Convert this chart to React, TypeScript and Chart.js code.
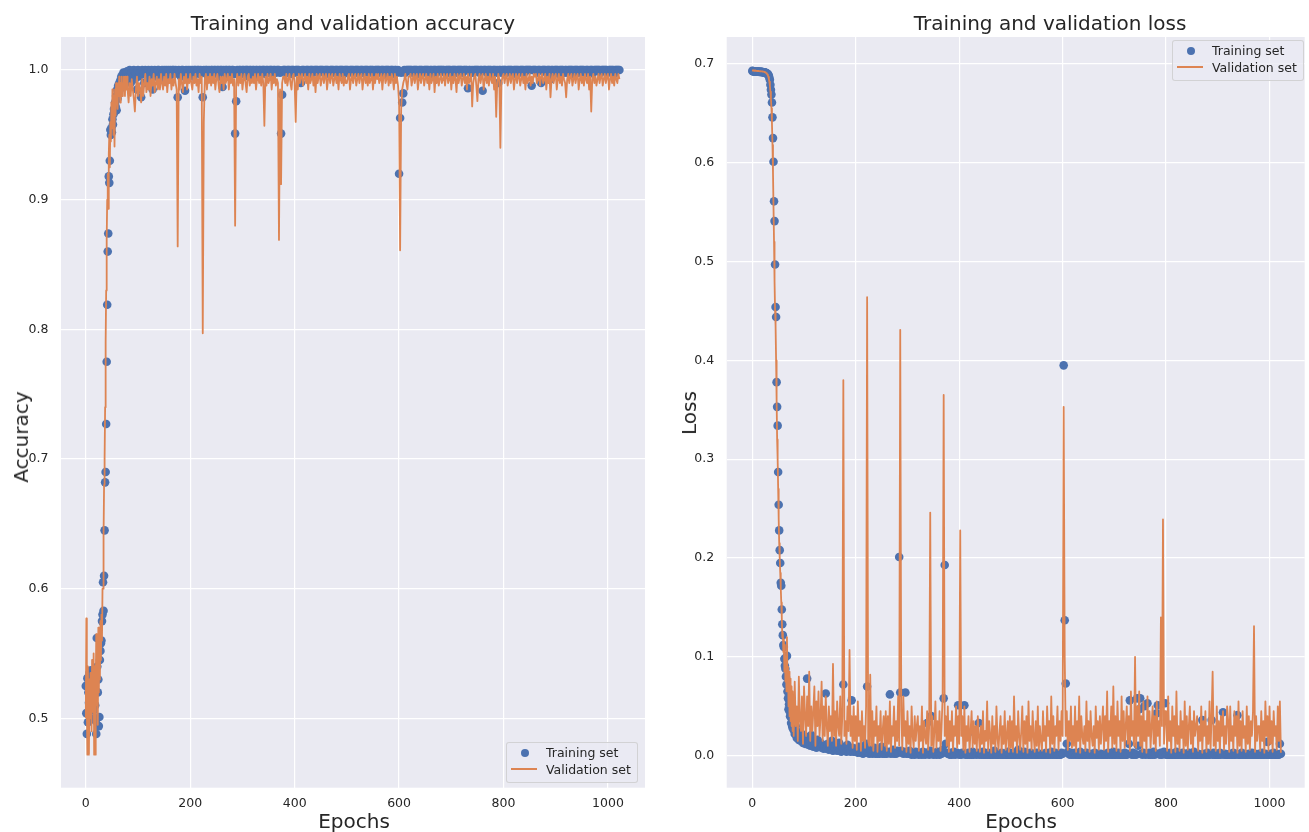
import React, { useEffect, useRef } from "react";
import { Chart, registerables } from "chart.js";
Chart.register(...registerables);

// Epoch positions (x categories): every epoch up to 79, then every second epoch
const EPOCHS: number[] = [];
for (let e = 0; e < 80; e++) EPOCHS.push(e);
for (let e = 80; e <= 1022; e += 2) EPOCHS.push(e);

const X_TICKS = [0, 200, 400, 600, 800, 1000];
const ACC_TICKS = [0.5, 0.6, 0.7, 0.8, 0.9, 1.0];
const LOSS_TICKS = [0.0, 0.1, 0.2, 0.3, 0.4, 0.5, 0.6, 0.7];

const ACC_TRAIN = [
  0.525,0.504,0.488,0.531,0.497,0.52,0.512,0.535,0.51,0.5,
  0.537,0.523,0.53,0.515,0.528,0.506,0.52,0.533,0.51,0.498,
  0.488,0.562,0.54,0.52,0.53,0.494,0.501,0.545,0.552,0.558,
  0.56,0.575,0.58,0.605,0.583,0.61,0.645,0.682,0.69,0.727,
  0.775,0.819,0.86,0.874,0.918,0.913,0.93,0.954,0.95,0.955,
  0.952,0.962,0.958,0.966,0.97,0.968,0.975,0.972,0.98,0.969,
  0.985,0.978,0.988,0.982,0.99,0.985,0.992,0.988,0.995,0.99,
  0.996,0.992,0.998,0.994,0.997,0.993,0.998,0.995,0.997,0.999,
  // 80..138
  0.998,0.995,1.0,0.99,0.998,0.995,1.0,0.993,0.998,0.985, 1.0,0.995,0.998,0.979,1.0,0.997,0.99,1.0,0.998,0.995, 1.0,0.993,0.998,1.0,0.985,0.997,1.0,0.995,0.998,1.0,
  // 140..198
  1.0,0.998,0.995,1.0,0.998,1.0,0.993,1.0,0.998,1.0, 0.995,1.0,0.998,1.0,1.0,0.997,1.0,0.998,0.979,1.0, 0.998,0.995,1.0,1.0,0.998,0.984,1.0,0.998,1.0,0.995,
  // 200..258
  1.0,0.998,1.0,0.995,1.0,1.0,0.998,1.0,1.0,0.997, 1.0,0.998,0.979,1.0,0.998,1.0,1.0,0.995,1.0,0.998, 1.0,1.0,0.997,1.0,1.0,0.998,1.0,1.0,0.995,1.0,
  // 260..318
  1.0,0.987,1.0,0.998,1.0,1.0,0.995,1.0,1.0,0.998, 1.0,1.0,0.997,0.951,0.976,1.0,0.998,1.0,1.0,0.997, 1.0,1.0,0.998,1.0,1.0,1.0,0.995,1.0,1.0,0.998,
  // 320..378
  1.0,1.0,0.998,1.0,1.0,0.995,1.0,1.0,0.998,1.0, 1.0,1.0,0.997,1.0,1.0,0.998,1.0,1.0,1.0,0.997, 1.0,1.0,0.998,1.0,1.0,1.0,0.998,0.951,0.981,1.0,
  // 380..438
  1.0,1.0,0.998,1.0,1.0,1.0,0.997,1.0,1.0,1.0, 0.998,1.0,1.0,1.0,1.0,0.998,0.99,1.0,1.0,1.0, 0.998,1.0,1.0,1.0,0.997,1.0,1.0,1.0,0.998,1.0,
  // 440..498
  1.0,1.0,1.0,0.998,1.0,1.0,1.0,1.0,0.998,1.0, 1.0,1.0,1.0,0.997,1.0,1.0,1.0,1.0,0.998,1.0, 1.0,1.0,0.998,1.0,1.0,1.0,1.0,0.997,1.0,1.0,
  // 500..558
  1.0,1.0,0.998,1.0,1.0,1.0,1.0,0.998,1.0,1.0, 1.0,1.0,0.997,1.0,1.0,1.0,0.998,1.0,1.0,1.0, 1.0,0.998,1.0,1.0,1.0,1.0,0.997,1.0,1.0,1.0,
  // 560..618
  1.0,1.0,0.998,1.0,1.0,1.0,0.997,1.0,1.0,1.0, 1.0,0.998,1.0,1.0,1.0,0.997,1.0,1.0,0.998,1.0, 0.92,0.963,0.998,0.975,0.982,1.0,0.998,1.0,1.0,1.0,
  // 620..678
  1.0,1.0,1.0,0.998,1.0,1.0,1.0,1.0,0.997,1.0, 1.0,1.0,1.0,0.998,1.0,1.0,1.0,1.0,1.0,0.998, 1.0,1.0,0.997,1.0,1.0,1.0,0.998,1.0,1.0,1.0,
  // 680..738
  1.0,1.0,1.0,1.0,0.998,1.0,1.0,1.0,1.0,1.0, 0.997,1.0,1.0,1.0,1.0,0.998,1.0,1.0,1.0,1.0, 1.0,0.998,1.0,1.0,1.0,1.0,0.986,1.0,1.0,0.998,
  // 740..798
  1.0,0.998,1.0,1.0,1.0,1.0,1.0,0.998,1.0,1.0, 0.984,1.0,1.0,1.0,0.998,1.0,1.0,1.0,1.0,0.997, 1.0,1.0,1.0,0.998,1.0,0.99,1.0,1.0,0.998,1.0,
  // 800..858
  1.0,1.0,1.0,0.998,1.0,1.0,1.0,1.0,1.0,0.997, 1.0,1.0,1.0,1.0,1.0,0.998,1.0,1.0,1.0,1.0, 0.998,1.0,1.0,1.0,1.0,1.0,1.0,0.988,1.0,1.0,
  // 860..918
  1.0,1.0,0.998,1.0,1.0,1.0,0.99,1.0,1.0,1.0, 1.0,0.998,1.0,1.0,1.0,0.993,1.0,1.0,0.998,1.0, 1.0,1.0,1.0,0.997,1.0,1.0,1.0,1.0,0.998,1.0,
  // 920..978
  1.0,0.998,1.0,1.0,1.0,1.0,1.0,0.997,1.0,1.0, 1.0,1.0,0.998,1.0,1.0,1.0,1.0,1.0,0.998,1.0, 1.0,1.0,0.997,1.0,1.0,1.0,0.998,1.0,1.0,1.0,
  // 980..1022
  1.0,1.0,1.0,0.998,1.0,1.0,1.0,1.0,1.0,1.0, 0.998,1.0,1.0,1.0,1.0,1.0,0.997,1.0,1.0,1.0, 1.0,1.0,
];

const ACC_VAL = [
  0.5,0.577,0.51,0.472,0.54,0.49,0.472,0.53,0.5,0.535,
  0.515,0.49,0.545,0.52,0.505,0.55,0.472,0.54,0.472,0.52,
  0.565,0.51,0.555,0.495,0.57,0.52,0.56,0.53,0.575,0.545,
  0.58,0.56,0.6,0.6,0.64,0.68,0.7,0.74,0.79,0.83,
  0.87,0.9,0.92,0.893,0.935,0.95,0.925,0.96,0.945,0.975,
  0.955,0.985,0.97,0.95,0.98,0.941,0.985,0.965,0.99,0.975,
  0.985,0.97,0.99,0.98,0.995,0.985,0.975,0.99,0.985,0.995,
  0.98,0.99,0.985,0.995,0.99,0.98,0.995,0.99,0.985,0.995,
  // 80..138
  0.985,0.975,0.99,0.98,0.993,0.985,0.978,0.968,0.985,0.995, 0.98,0.99,0.985,0.975,0.993,0.98,0.99,0.997,0.983,0.99, 0.985,0.995,0.98,0.993,0.988,0.997,0.983,0.99,0.995,0.985,
  // 140..198
  0.993,0.985,0.997,0.99,0.985,0.995,0.988,0.997,0.983,0.993, 0.99,0.997,0.985,0.993,0.988,0.997,0.99,0.985,0.864,0.993, 0.985,0.997,0.99,0.983,0.995,0.99,0.997,0.985,0.993,0.99,
  // 200..258
  0.997,0.99,0.985,0.995,0.99,0.997,0.988,0.993,0.983,0.997, 0.99,0.995,0.797,0.96,0.993,0.997,0.985,0.995,0.99,0.997, 0.988,0.995,0.99,0.997,0.985,0.993,0.997,0.99,0.983,0.995,
  // 260..318
  0.99,0.995,0.985,0.997,0.99,0.993,0.997,0.985,0.995,0.99, 0.997,0.988,0.993,0.88,0.99,0.997,0.988,0.995,0.99,0.997, 0.985,0.993,0.997,0.99,0.983,0.995,0.997,0.988,0.993,0.99,
  // 320..378
  0.995,0.99,0.997,0.985,0.993,0.997,0.99,0.995,0.988,0.997, 0.99,0.957,0.995,0.988,0.997,0.99,0.993,0.997,0.985,0.995, 0.99,0.997,0.988,0.993,0.99,0.869,0.985,0.912,0.99,0.995,
  // 380..438
  0.995,0.99,0.997,0.988,0.993,0.997,0.99,0.985,0.995,0.997, 0.99,0.96,0.995,0.985,0.997,0.99,0.995,0.997,0.988,0.993, 0.997,0.99,0.995,0.985,0.997,0.99,0.993,0.997,0.988,0.995,
  // 440..498
  0.983,0.997,0.99,0.995,0.997,0.988,0.993,0.997,0.99,0.995, 0.997,0.985,0.993,0.997,0.99,0.995,0.997,0.988,0.993,0.997, 0.99,0.995,0.985,0.997,0.993,0.99,0.997,0.988,0.995,0.99,
  // 500..558
  0.99,0.995,0.997,0.985,0.993,0.997,0.99,0.995,0.997,0.988, 0.993,0.997,0.99,0.995,0.997,0.985,0.993,0.997,0.99,0.995, 0.988,0.997,0.99,0.993,0.997,0.985,0.995,0.99,0.997,0.993,
  // 560..618
  0.997,0.99,0.993,0.997,0.985,0.995,0.997,0.99,0.993,0.997, 0.988,0.995,0.99,0.997,0.993,0.985,0.997,0.99,0.995,0.988, 0.975,0.861,0.97,0.985,0.99,0.993,0.997,0.99,0.985,0.995,
  // 620..678
  0.995,0.997,0.988,0.993,0.997,0.99,0.995,0.997,0.985,0.993, 0.997,0.99,0.995,0.997,0.988,0.993,0.997,0.99,0.995,0.985, 0.997,0.99,0.993,0.997,0.983,0.995,0.99,0.997,0.988,0.993,
  // 680..738
  0.997,0.99,0.993,0.997,0.988,0.995,0.997,0.99,0.993,0.997, 0.985,0.995,0.99,0.997,0.993,0.983,0.997,0.99,0.995,0.997, 0.988,0.993,0.997,0.99,0.995,0.985,0.997,0.99,0.993,0.997,
  // 740..798
  0.972,0.99,0.995,0.997,0.988,0.976,0.993,0.997,0.99,0.995, 0.997,0.985,0.993,0.997,0.99,0.995,0.988,0.997,0.993,0.99, 0.997,0.985,0.995,0.964,0.99,0.997,0.993,0.94,0.99,0.995,
  // 800..858
  0.997,0.99,0.995,0.997,0.988,0.993,0.997,0.99,0.995,0.997, 0.985,0.993,0.997,0.99,0.995,0.997,0.988,0.993,0.997,0.99, 0.995,0.985,0.997,0.99,0.993,0.997,0.988,0.995,0.99,0.997,
  // 860..918
  0.995,0.997,0.99,0.993,0.997,0.988,0.995,0.997,0.99,0.993, 0.997,0.985,0.995,0.99,0.997,0.979,0.993,0.997,0.99,0.995, 0.997,0.985,0.993,0.997,0.99,0.995,0.988,0.997,0.993,0.99,
  // 920..978
  0.979,0.993,0.997,0.99,0.995,0.997,0.988,0.993,0.997,0.99, 0.995,0.997,0.985,0.993,0.997,0.99,0.995,0.988,0.997,0.993, 0.99,0.997,0.985,0.995,0.968,0.993,0.997,0.99,0.995,0.988,
  // 980..1022
  0.993,0.997,0.99,0.995,0.997,0.988,0.993,0.997,0.99,0.995, 0.997,0.985,0.993,0.997,0.99,0.995,0.988,0.997,0.993,0.99, 0.997,0.993,
];

const LOSS_TRAIN = [
  0.693,0.6928,0.6926,0.6924,0.6926,0.6925,0.6924,0.6922,0.6924,0.6923,
  0.6922,0.6923,0.6921,0.6922,0.692,0.6921,0.692,0.6919,0.692,0.6918,
  0.6918,0.6917,0.6916,0.6915,0.6914,0.6912,0.691,0.6908,0.6905,0.69,
  0.6895,0.689,0.688,0.686,0.684,0.679,0.674,0.669,0.661,0.646,
  0.625,0.601,0.561,0.541,0.497,0.454,0.444,0.378,0.353,0.334,
  0.287,0.254,0.228,0.208,0.195,0.175,0.172,0.148,0.133,0.122,
  0.112,0.11,0.098,0.091,0.088,0.08,0.072,0.101,0.065,0.058,
  0.047,0.052,0.045,0.04,0.048,0.033,0.038,0.03,0.028,0.033,
  // 80..138
  0.026,0.022,0.03,0.018,0.024,0.016,0.02,0.015,0.022,0.013, 0.017,0.012,0.019,0.078,0.011,0.015,0.01,0.021,0.012,0.009, 0.014,0.011,0.008,0.016,0.01,0.009,0.013,0.008,0.011,0.007,
  // 140..198
  0.009,0.063,0.007,0.012,0.006,0.01,0.008,0.015,0.005,0.009, 0.007,0.011,0.005,0.008,0.013,0.006,0.004,0.009,0.072,0.005, 0.007,0.004,0.011,0.005,0.006,0.004,0.056,0.008,0.004,0.006,
  // 200..258
  0.004,0.006,0.003,0.009,0.004,0.003,0.007,0.002,0.005,0.003, 0.012,0.07,0.003,0.002,0.006,0.003,0.002,0.004,0.008,0.002, 0.003,0.002,0.005,0.002,0.003,0.009,0.002,0.003,0.002,0.004,
  // 260..318
  0.002,0.004,0.003,0.062,0.002,0.003,0.006,0.002,0.003,0.002, 0.005,0.003,0.201,0.064,0.005,0.003,0.002,0.004,0.064,0.002, 0.003,0.002,0.005,0.002,0.001,0.003,0.002,0.001,0.004,0.002,
  // 320..378
  0.002,0.001,0.003,0.002,0.001,0.004,0.002,0.001,0.003,0.033, 0.002,0.001,0.005,0.04,0.002,0.001,0.003,0.002,0.001,0.004, 0.002,0.001,0.003,0.002,0.006,0.058,0.193,0.012,0.003,0.002,
  // 380..438
  0.002,0.001,0.003,0.001,0.002,0.004,0.001,0.002,0.003,0.051, 0.001,0.002,0.001,0.003,0.002,0.051,0.001,0.002,0.001,0.003, 0.001,0.002,0.001,0.004,0.001,0.023,0.002,0.001,0.003,0.033,
  // 440..498
  0.001,0.002,0.001,0.004,0.001,0.001,0.002,0.001,0.003,0.001, 0.001,0.002,0.001,0.001,0.005,0.001,0.002,0.001,0.001,0.002, 0.001,0.003,0.001,0.001,0.002,0.001,0.001,0.004,0.001,0.001,
  // 500..558
  0.001,0.001,0.003,0.001,0.001,0.002,0.001,0.006,0.001,0.001, 0.002,0.001,0.001,0.004,0.001,0.001,0.002,0.001,0.001,0.003, 0.001,0.001,0.002,0.001,0.001,0.003,0.001,0.001,0.002,0.001,
  // 560..618
  0.001,0.002,0.001,0.001,0.003,0.001,0.001,0.002,0.001,0.004, 0.001,0.002,0.001,0.003,0.001,0.001,0.002,0.001,0.001,0.003, 0.002,0.395,0.137,0.073,0.012,0.004,0.002,0.001,0.003,0.001,
  // 620..678
  0.002,0.001,0.003,0.001,0.002,0.001,0.001,0.004,0.001,0.001, 0.002,0.001,0.001,0.003,0.001,0.002,0.001,0.001,0.002,0.001, 0.001,0.003,0.001,0.001,0.002,0.001,0.001,0.002,0.001,0.001,
  // 680..738
  0.001,0.002,0.001,0.001,0.003,0.001,0.002,0.001,0.001,0.004, 0.001,0.001,0.002,0.001,0.003,0.001,0.001,0.002,0.001,0.001, 0.003,0.001,0.001,0.002,0.012,0.056,0.002,0.001,0.003,0.001,
  // 740..798
  0.002,0.001,0.058,0.01,0.047,0.058,0.002,0.001,0.003,0.05, 0.001,0.002,0.053,0.001,0.003,0.001,0.002,0.001,0.004,0.001, 0.002,0.043,0.051,0.002,0.001,0.003,0.001,0.002,0.004,0.053,
  // 800..858
  0.001,0.002,0.001,0.001,0.003,0.001,0.001,0.002,0.001,0.001, 0.004,0.001,0.001,0.002,0.001,0.001,0.003,0.001,0.001,0.002, 0.001,0.001,0.003,0.001,0.002,0.001,0.001,0.004,0.001,0.001,
  // 860..918
  0.001,0.002,0.001,0.001,0.001,0.036,0.001,0.002,0.001,0.001, 0.003,0.001,0.001,0.002,0.036,0.001,0.003,0.001,0.001,0.002, 0.001,0.001,0.003,0.001,0.002,0.044,0.001,0.002,0.001,0.001,
  // 920..978
  0.001,0.001,0.002,0.001,0.001,0.003,0.001,0.001,0.002,0.041, 0.001,0.001,0.001,0.003,0.001,0.001,0.002,0.001,0.001,0.001, 0.002,0.001,0.001,0.003,0.001,0.001,0.002,0.001,0.001,0.001,
  // 980..1022
  0.002,0.001,0.001,0.003,0.001,0.001,0.002,0.001,0.014,0.001, 0.001,0.002,0.001,0.001,0.003,0.001,0.001,0.002,0.001,0.001, 0.012,0.002,
];

const LOSS_VAL = [
  0.6935,0.6933,0.6934,0.6932,0.6933,0.6931,0.6932,0.693,0.6931,0.6929,
  0.693,0.6928,0.6929,0.6927,0.6928,0.6926,0.6927,0.6925,0.6926,0.6924,
  0.6925,0.6923,0.6922,0.692,0.6918,0.6915,0.6912,0.6908,0.6902,0.6895,
  0.6885,0.687,0.685,0.682,0.678,0.672,0.665,0.655,0.64,0.618,
  0.59,0.555,0.52,0.48,0.45,0.435,0.4,0.36,0.32,0.3,
  0.27,0.24,0.215,0.2,0.185,0.17,0.155,0.14,0.12,0.125,
  0.105,0.118,0.085,0.112,0.075,0.1,0.065,0.12,0.07,0.09,
  0.05,0.085,0.04,0.078,0.035,0.07,0.03,0.065,0.025,0.06,
  // 80..138
  0.02,0.075,0.03,0.05,0.015,0.08,0.035,0.025,0.06,0.012, 0.07,0.04,0.02,0.06,0.03,0.085,0.015,0.05,0.025,0.045, 0.07,0.01,0.055,0.03,0.065,0.02,0.04,0.075,0.015,0.05,
  // 140..198
  0.02,0.06,0.03,0.01,0.05,0.025,0.04,0.015,0.093,0.02, 0.045,0.01,0.055,0.03,0.02,0.06,0.012,0.04,0.38,0.02, 0.035,0.012,0.05,0.025,0.107,0.02,0.04,0.008,0.05,0.015,
  // 200..258
  0.04,0.006,0.055,0.02,0.035,0.005,0.045,0.015,0.03,0.008, 0.05,0.464,0.015,0.01,0.082,0.01,0.045,0.005,0.035,0.02, 0.05,0.004,0.03,0.015,0.045,0.006,0.025,0.04,0.01,0.045,
  // 260..318
  0.005,0.04,0.012,0.055,0.004,0.03,0.02,0.05,0.008,0.035, 0.015,0.06,0.01,0.431,0.045,0.006,0.06,0.02,0.035,0.004, 0.045,0.012,0.03,0.003,0.05,0.02,0.008,0.04,0.015,0.03,
  // 320..378
  0.04,0.005,0.03,0.015,0.05,0.003,0.035,0.02,0.012,0.045, 0.006,0.03,0.246,0.01,0.04,0.004,0.025,0.055,0.008,0.035, 0.015,0.045,0.005,0.03,0.06,0.365,0.02,0.04,0.01,0.05,
  // 380..438
  0.004,0.035,0.015,0.045,0.005,0.03,0.02,0.05,0.008,0.04, 0.012,0.228,0.02,0.04,0.006,0.05,0.003,0.03,0.015,0.04, 0.004,0.025,0.045,0.008,0.035,0.012,0.03,0.005,0.04,0.02,
  // 440..498
  0.004,0.03,0.012,0.045,0.003,0.025,0.015,0.055,0.005,0.035, 0.02,0.003,0.04,0.012,0.03,0.004,0.05,0.018,0.006,0.025, 0.04,0.003,0.03,0.012,0.045,0.006,0.02,0.035,0.004,0.04,
  // 500..558
  0.008,0.035,0.004,0.06,0.015,0.03,0.003,0.045,0.02,0.006, 0.025,0.05,0.004,0.035,0.012,0.04,0.003,0.055,0.015,0.03, 0.006,0.045,0.02,0.004,0.035,0.01,0.05,0.005,0.03,0.015,
  // 560..618
  0.005,0.045,0.015,0.03,0.004,0.05,0.02,0.035,0.003,0.06, 0.012,0.04,0.005,0.03,0.02,0.05,0.006,0.035,0.015,0.045, 0.02,0.353,0.1,0.02,0.045,0.006,0.035,0.015,0.05,0.008,
  // 620..678
  0.03,0.01,0.05,0.004,0.035,0.015,0.06,0.003,0.04,0.02, 0.012,0.03,0.005,0.055,0.015,0.035,0.004,0.045,0.02,0.01, 0.03,0.003,0.05,0.018,0.035,0.006,0.04,0.012,0.03,0.05,
  // 680..738
  0.006,0.04,0.015,0.065,0.004,0.035,0.02,0.05,0.008,0.07, 0.012,0.04,0.005,0.055,0.02,0.035,0.004,0.06,0.015,0.045, 0.008,0.03,0.05,0.012,0.04,0.005,0.065,0.02,0.035,0.01,
  // 740..798
  0.1,0.008,0.05,0.02,0.065,0.01,0.04,0.004,0.055,0.015, 0.035,0.003,0.06,0.02,0.045,0.008,0.03,0.05,0.012,0.04, 0.005,0.055,0.02,0.035,0.01,0.14,0.03,0.239,0.012,0.045,
  // 800..858
  0.045,0.005,0.06,0.015,0.035,0.003,0.05,0.02,0.04,0.004, 0.065,0.012,0.03,0.005,0.045,0.018,0.035,0.003,0.055,0.01, 0.04,0.006,0.03,0.05,0.012,0.035,0.004,0.045,0.02,0.03,
  // 860..918
  0.04,0.005,0.03,0.015,0.05,0.003,0.035,0.02,0.045,0.004, 0.03,0.012,0.055,0.006,0.04,0.085,0.01,0.03,0.005,0.05, 0.015,0.035,0.003,0.04,0.02,0.045,0.006,0.03,0.012,0.05,
  // 920..978
  0.035,0.004,0.05,0.015,0.03,0.005,0.045,0.02,0.04,0.003, 0.055,0.01,0.035,0.005,0.045,0.018,0.03,0.004,0.05,0.012, 0.04,0.006,0.035,0.02,0.045,0.131,0.004,0.04,0.015,0.03,
  // 980..1022
  0.03,0.005,0.045,0.015,0.035,0.003,0.055,0.02,0.04,0.005, 0.05,0.012,0.035,0.004,0.045,0.02,0.03,0.006,0.05,0.015, 0.055,0.003,
];

const BLUE = "#4C72B0";
const ORANGE = "#DD8452";
const AX_BG = "#EAEAF2";
const TEXT = "#262626";
const FONT = '"DejaVu Sans", "Liberation Sans", sans-serif';

const bgPlugin = {
  id: "axesBackground",
  beforeDraw(chart: any) {
    const { ctx, chartArea: a } = chart;
    ctx.save();
    ctx.fillStyle = AX_BG;
    ctx.fillRect(a.left, a.top, a.right - a.left, a.bottom - a.top);
    ctx.restore();
  },
};

type PanelProps = {
  left: number;
  width: number;
  yWidth: number;
  padRight: number;
  xMin: number;
  xMax: number;
  yMin: number;
  yMax: number;
  yTicks: number[];
  train: number[];
  val: number[];
};

function Panel(p: PanelProps) {
  const ref = useRef<HTMLCanvasElement | null>(null);
  useEffect(() => {
    if (!ref.current) return;
    const trainPts = EPOCHS.map((x, i) => ({ x, y: p.train[i] }));
    const valPts = EPOCHS.map((x, i) => ({ x, y: p.val[i] }));
    const tickFont = { family: FONT, size: 12.5 };
    const chart = new Chart(ref.current, {
      type: "scatter",
      data: {
        datasets: [
          {
            label: "Validation set",
            data: valPts,
            showLine: true,
            borderColor: ORANGE,
            backgroundColor: ORANGE,
            borderWidth: 1.8,
            pointRadius: 0,
            tension: 0,
            borderJoinStyle: "round",
            order: 0,
          } as any,
          {
            label: "Training set",
            data: trainPts,
            showLine: false,
            backgroundColor: BLUE,
            borderColor: BLUE,
            borderWidth: 0,
            pointRadius: 4.3,
            order: 1,
          } as any,
        ],
      },
      options: {
        responsive: false,
        animation: false,
        events: [],
        layout: { padding: { top: 37, left: 0, right: p.padRight, bottom: 0 } },
        plugins: {
          legend: { display: false },
          tooltip: { enabled: false },
          title: { display: false },
        },
        scales: {
          x: {
            type: "linear",
            min: p.xMin,
            max: p.xMax,
            afterBuildTicks: (s: any) => {
              s.ticks = X_TICKS.map((v) => ({ value: v }));
            },
            afterFit: (s: any) => {
              s.height = 44.3;
            },
            grid: { color: "#ffffff", lineWidth: 1.2, drawTicks: false },
            border: { display: false },
            ticks: {
              padding: 9,
              color: TEXT,
              font: tickFont,
              maxRotation: 0,
              callback: (v: any) => String(v),
            },
          },
          y: {
            type: "linear",
            min: p.yMin,
            max: p.yMax,
            afterBuildTicks: (s: any) => {
              s.ticks = p.yTicks.map((v) => ({ value: v }));
            },
            afterFit: (s: any) => {
              s.width = p.yWidth;
            },
            grid: { color: "#ffffff", lineWidth: 1.2, drawTicks: false },
            border: { display: false },
            ticks: {
              padding: 12.5,
              color: TEXT,
              font: tickFont,
              callback: (v: any) => Number(v).toFixed(1),
            },
          },
        },
      } as any,
      plugins: [bgPlugin],
    });
    return () => chart.destroy();
  }, []);
  return (
    <canvas
      ref={ref}
      width={p.width}
      height={832}
      style={{ position: "absolute", left: p.left, top: 0, width: p.width, height: 832, display: "block" }}
    />
  );
}

function Label(props: { x: number; y: number; size: number; rotate?: boolean; children: any }) {
  return (
    <div
      style={{
        position: "absolute",
        left: props.x,
        top: props.y,
        transform: `translate(-50%, -50%)${props.rotate ? " rotate(-90deg)" : ""}`,
        fontFamily: FONT,
        fontSize: props.size,
        color: TEXT,
        whiteSpace: "nowrap",
        lineHeight: 1,
      }}
    >
      {props.children}
    </div>
  );
}

function Legend(props: { x: number; y: number }) {
  return (
    <div
      style={{
        position: "absolute",
        left: props.x,
        top: props.y,
        width: 132,
        height: 41,
        boxSizing: "border-box",
        background: "rgba(234,234,242,0.8)",
        border: "1px solid rgba(204,204,204,0.8)",
        borderRadius: 3,
        fontFamily: FONT,
        fontSize: 12.5,
        color: TEXT,
      }}
    >
      <div
        style={{
          position: "absolute",
          left: 13.5,
          top: 5.5,
          width: 8.6,
          height: 8.6,
          borderRadius: "50%",
          background: BLUE,
        }}
      />
      <div style={{ position: "absolute", left: 39, top: 9.5, transform: "translateY(-50%)", whiteSpace: "nowrap", lineHeight: 1 }}>
        Training set
      </div>
      <div
        style={{
          position: "absolute",
          left: 4,
          top: 25,
          width: 26,
          height: 2,
          background: ORANGE,
        }}
      />
      <div style={{ position: "absolute", left: 39, top: 26.5, transform: "translateY(-50%)", whiteSpace: "nowrap", lineHeight: 1 }}>
        Validation set
      </div>
    </div>
  );
}

export default function App() {
  return (
    <div
      style={{
        position: "absolute",
        left: 0,
        top: 0,
        width: 1309,
        height: 832,
        background: "#ffffff",
        overflow: "hidden",
      }}
    >
      <Panel
        left={0}
        width={660}
        yWidth={61}
        padRight={15}
        xMin={-47.5}
        xMax={1071}
        yMin={0.4465}
        yMax={1.0255}
        yTicks={ACC_TICKS}
        train={ACC_TRAIN}
        val={ACC_VAL}
      />
      <Panel
        left={660}
        width={649}
        yWidth={66.7}
        padRight={0}
        xMin={-49.5}
        xMax={1068}
        yMin={-0.0324}
        yMax={0.7273}
        yTicks={LOSS_TICKS}
        train={LOSS_TRAIN}
        val={LOSS_VAL}
      />
      <Label x={353} y={23} size={20}>Training and validation accuracy</Label>
      <Label x={1050} y={23} size={20}>Training and validation loss</Label>
      <Label x={354} y={821} size={20}>Epochs</Label>
      <Label x={1021} y={821} size={20}>Epochs</Label>
      <Label x={21} y={437} size={20} rotate>Accuracy</Label>
      <Label x={689} y={413} size={20} rotate>Loss</Label>
      <Legend x={506} y={742} />
      <Legend x={1172} y={40} />
    </div>
  );
}
